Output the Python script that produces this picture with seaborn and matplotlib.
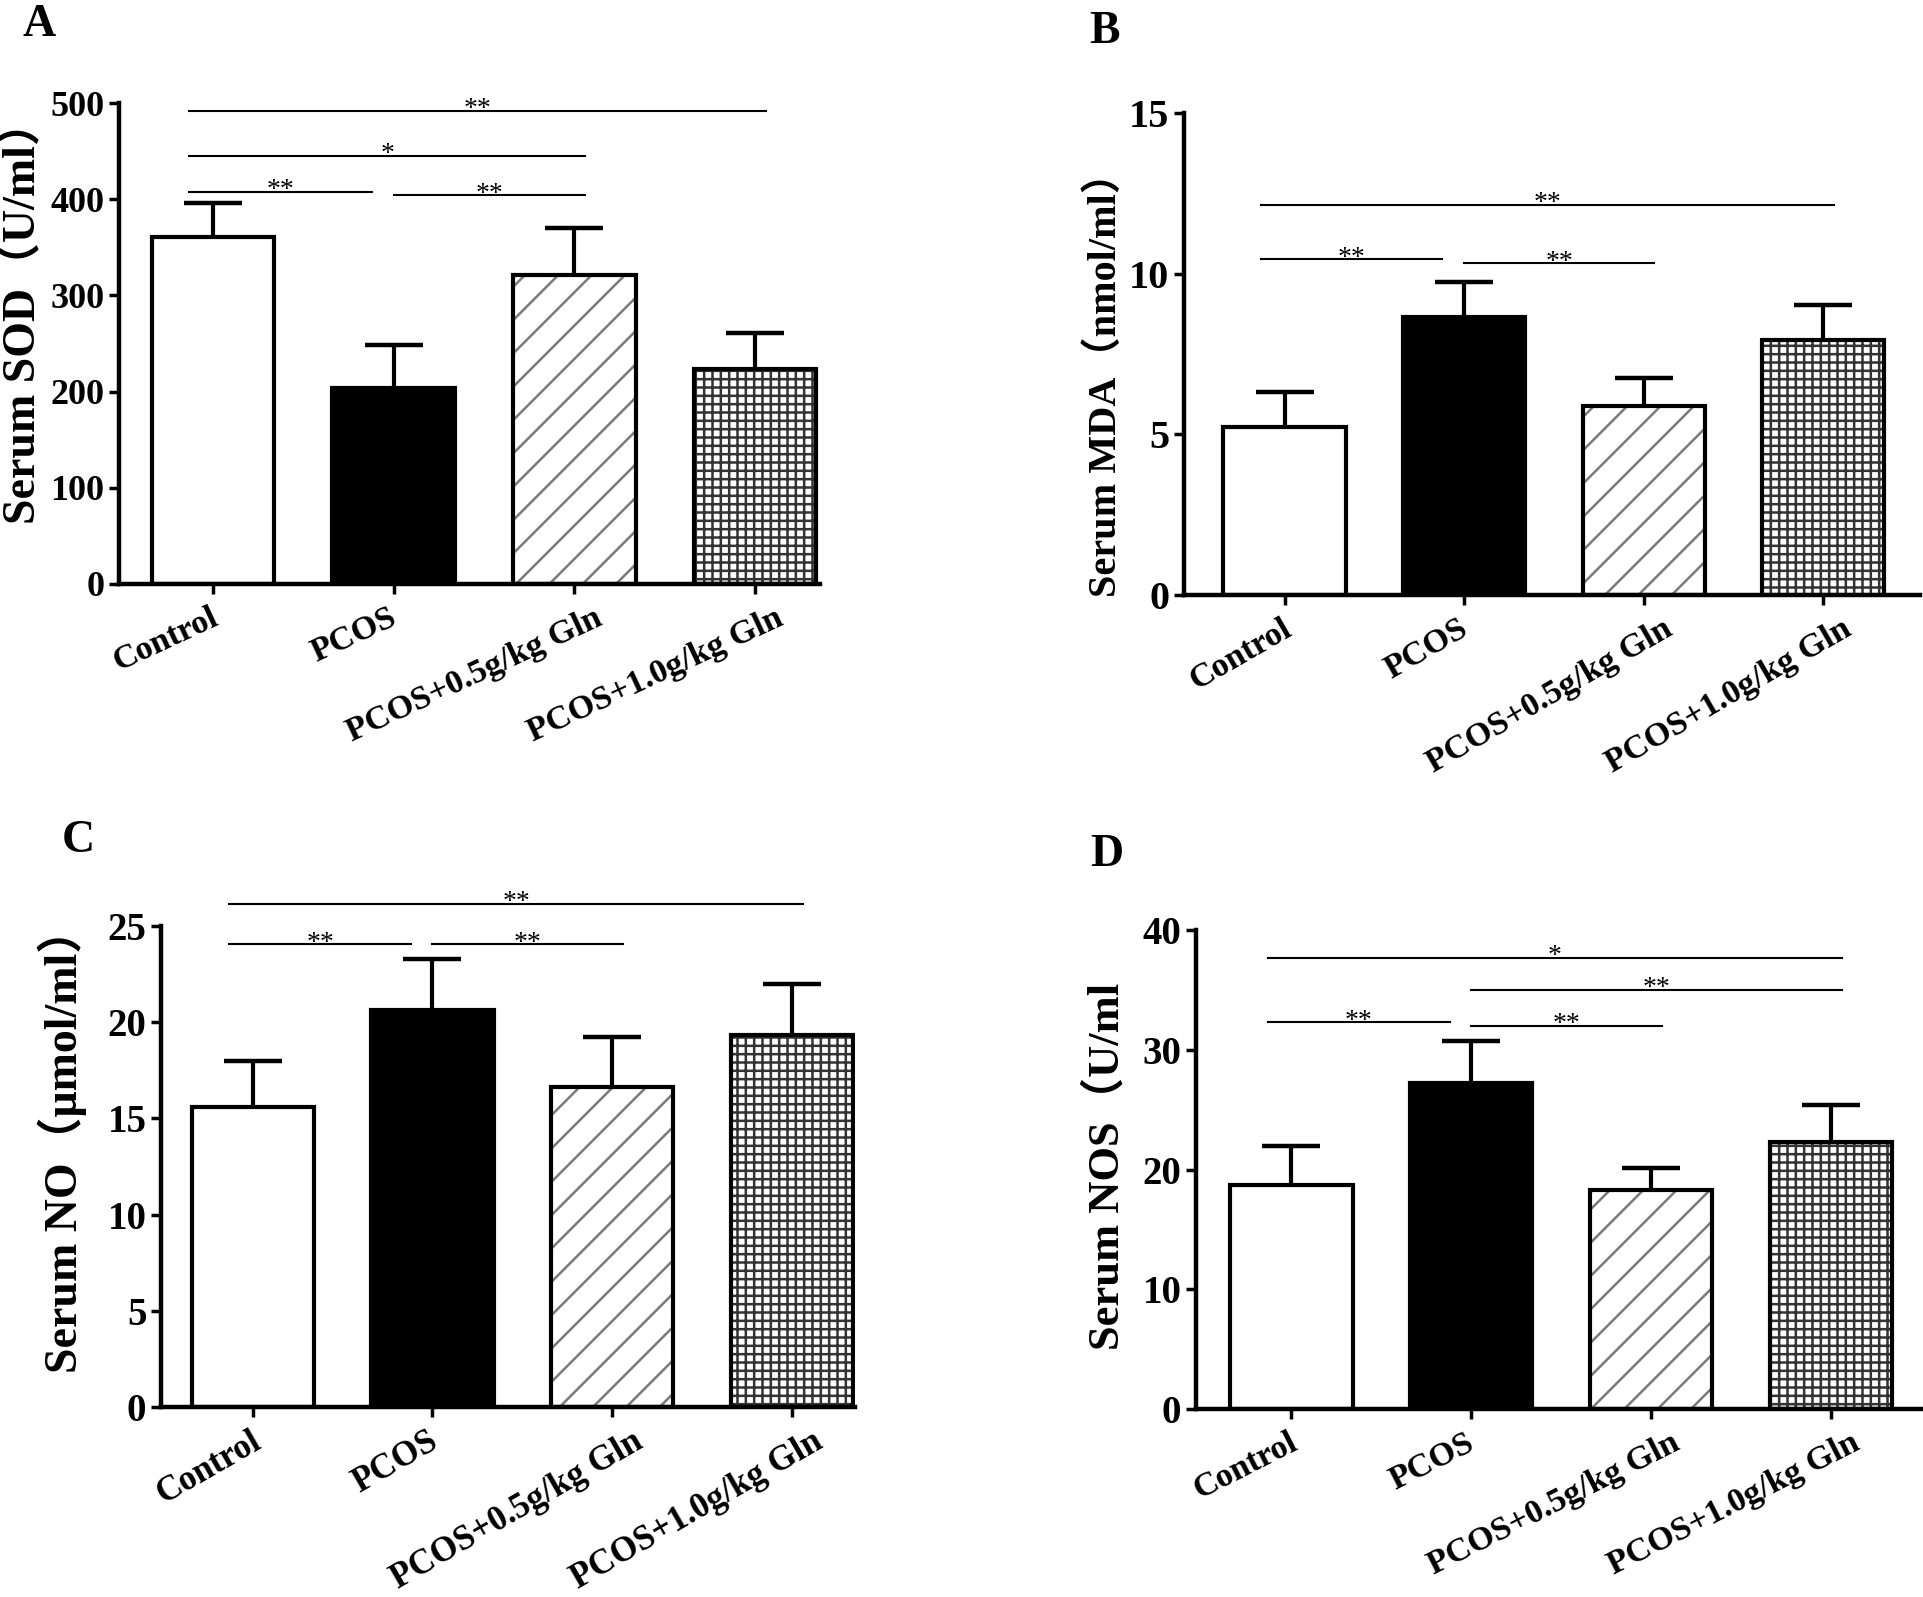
import numpy as np
import pandas as pd
import seaborn as sns
from matplotlib import pyplot as plt
import matplotlib.transforms as mtransforms

# groups on the x axis
groups = ['Control', 'PCOS', 'PCOS+0.5g/kg Gln', 'PCOS+1.0g/kg Gln']

# means and upper error
sod_mean = [361, 204, 321, 223]
sod_err = [35, 44, 49, 38]
mda_mean = [5.22, 8.65, 5.87, 7.95]
mda_err = [1.1, 1.08, 0.88, 1.08]
no_mean = [15.6, 20.65, 16.63, 19.31]
no_err = [2.4, 2.65, 2.6, 2.7]
nos_mean = [18.7, 27.2, 18.3, 22.3]
nos_err = [3.3, 3.5, 1.85, 3.05]

# significance bars: (group i, group j, height, label)
sod_sig = [(0, 3, 492, '**'), (0, 2, 445, '*'), (0, 1, 408, '**'), (1, 2, 404, '**')]
mda_sig = [(0, 3, 12.15, '**'), (0, 1, 10.45, '**'), (1, 2, 10.32, '**')]
no_sig = [(0, 3, 26.15, '**'), (0, 1, 24.05, '**'), (1, 2, 24.05, '**')]
nos_sig = [(0, 3, 37.7, '*'), (1, 3, 35.0, '**'), (0, 1, 32.3, '**'), (1, 2, 32.0, '**')]

plt.rcParams['font.family'] = ['Liberation Serif', 'Noto Sans CJK SC', 'DejaVu Sans']
plt.rcParams['font.weight'] = 'bold'
plt.rcParams['hatch.linewidth'] = 1.8

fig = plt.figure(figsize=(19.24, 15.97), dpi=100)
W, H = 1924, 1597


def px_axes(left, right, top, bottom):
    return fig.add_axes([left / W, 1 - bottom / H, (right - left) / W, (bottom - top) / H])


def panel(ax, means, errs, sigs, ymax, step, xlim, tick_size, xrot, xsize):
    df = pd.DataFrame({'group': groups, 'value': means})
    sns.barplot(data=df, x='group', y='value', hue='group', ax=ax, width=0.68,
                palette=['white', 'black', 'white', 'white'], legend=False,
                linewidth=0, edgecolor='none', saturation=1)
    bars = ax.patches[:4]
    bars[2].set_hatch('/')
    bars[2].set_edgecolor('#7a7a7a')
    bars[3].set_hatch('++')
    bars[3].set_edgecolor('#333333')
    # black outline on top of all bars
    sns.barplot(data=df, x='group', y='value', ax=ax, width=0.68, fill=False,
                edgecolor='black', linewidth=3, errorbar=None)
    # upper error bars only
    eb = ax.errorbar(range(len(groups)), means, yerr=[np.zeros(len(errs)), errs],
                     fmt='none', ecolor='black', elinewidth=3, capsize=21, capthick=3.2,
                     zorder=1)
    eb[1][0].set_visible(False)
    for i, j, y, lab in sigs:
        x0 = i - 0.13 if i == 0 else i + 0.0
        x1 = j - 0.12 if j == 1 else j + 0.06
        ax.plot([x0, x1], [y, y], color='black', lw=1.5, clip_on=False)
        ax.annotate(lab, xy=((x0 + x1) / 2, y), xytext=(0, -4), textcoords='offset points',
                    ha='center', va='baseline', fontsize=20, fontweight='normal',
                    annotation_clip=False)
    ax.set_ylim(0, ymax)
    ax.set_yticks(np.arange(0, ymax + step / 2, step))
    ax.set_xlim(*xlim)
    ax.set_xlabel('')
    ax.set_ylabel('')
    sns.despine(ax=ax)
    for s in ['left', 'bottom']:
        ax.spines[s].set_linewidth(3.2)
    ax.tick_params(axis='both', width=2.5, length=7, labelsize=tick_size)
    ax.tick_params(axis='x', labelsize=xsize, pad=6)
    ax.set_xticks(range(len(groups)))
    ax.set_xticklabels(groups, rotation=xrot, ha='right', va='top', rotation_mode='anchor',
                       fontweight='bold')
    for lab in ax.get_yticklabels():
        lab.set_fontweight('bold')


axA = px_axes(119, 820, 103, 584)
panel(axA, sod_mean, sod_err, sod_sig, 500, 100, (-0.52, 3.36), 26, 25, 24.5)
axB = px_axes(1184, 1920, 113, 595)
panel(axB, mda_mean, mda_err, mda_sig, 15, 5, (-0.56, 3.54), 29, 30, 24.5)
axC = px_axes(161, 855, 926, 1407)
panel(axC, no_mean, no_err, no_sig, 25, 5, (-0.51, 3.35), 28, 30, 25)
axD = px_axes(1196, 1921, 930, 1409)
panel(axD, nos_mean, nos_err, nos_sig, 40, 10, (-0.53, 3.5), 28, 27, 24.5)

# y labels
ylabels = [('Serum SOD（U/ml）', 22, 312, 33),
           ('Serum MDA（nmol/ml）', 1106, 375, 29),
           ('Serum NO（μmol/ml）', 62, 1140, 33),
           ('Serum NOS（U/ml', 1106, 1166, 32)]
for txt, x, y, size in ylabels:
    fig.text(x / W, 1 - y / H, txt, rotation=90, ha='center', va='center',
             fontsize=size, fontweight='bold')

# panel letters
for letter, x, y in [('A', 39, 25), ('B', 1105, 32), ('C', 78, 841), ('D', 1107, 855)]:
    fig.text(x / W, 1 - y / H, letter, ha='center', va='center', fontsize=33, fontweight='bold')

# nudge the slanted tick labels to the right, longer labels a little more
fig.canvas.draw()
for ax in [axA, axB, axC, axD]:
    for lab in ax.get_xticklabels():
        w = lab.get_window_extent().width
        dx = -20 + 0.15 * w
        lab.set_transform(lab.get_transform()
                          + mtransforms.ScaledTranslation(dx / 100, 0, fig.dpi_scale_trans))

plt.savefig('out.png', dpi=100)
